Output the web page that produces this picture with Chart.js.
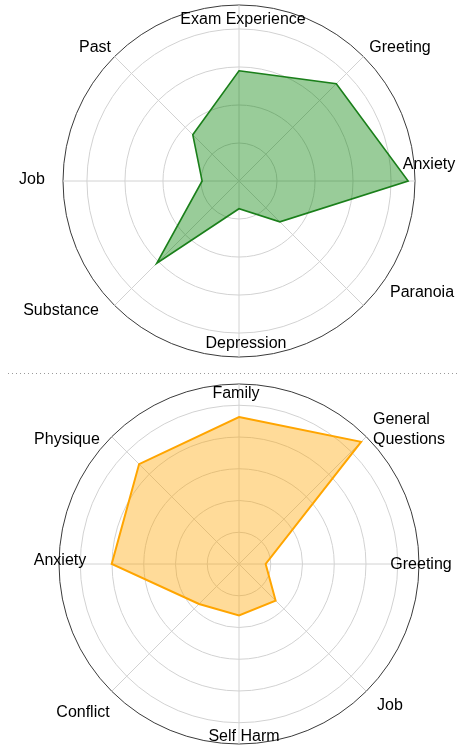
<!DOCTYPE html>
<html>
<head>
<meta charset="utf-8">
<script src="https://cdn.jsdelivr.net/npm/chart.js@4"></script>
<style>
    body { margin: 0; background: #fff; }
    #wrap { position: relative; width: 460px; height: 746px; overflow: hidden; }
    .box { position: absolute; left: 0; width: 460px; }
    #sep {
        position: absolute; left: 8px; top: 373px; width: 452px; height: 1px;
        background-image: repeating-linear-gradient(to right, #9a9a9a 0 1px, transparent 1px 4px);
    }
</style>
</head>
<body>
<div id="wrap">
    <div class="box" style="top:0;height:372px"><canvas id="topChart" width="460" height="372"></canvas></div>
    <div id="sep"></div>
    <div class="box" style="top:373px;height:373px"><canvas id="bottomChart" width="460" height="373"></canvas></div>
</div>
<script>
// top chart data (units = one grid ring)
const topCategories = ["Exam Experience", "Greeting", "Anxiety", "Paranoia", "Depression", "Substance", "Job", "Past"];
const topValues = [2.9, 3.62, 4.45, 1.52, 0.73, 3.06, 0.97, 1.72];
const topGridTicks = [0, 1, 2, 3, 4, 4.63];

// bottom chart data
const bottomCategories = ["Family", ["General", "Questions"], "Greeting", "Job", "Self Harm", "Conflict", "Anxiety", "Physique"];
const bottomValues = [4.63, 5.44, 0.84, 1.63, 1.62, 1.78, 4.01, 4.45];
const bottomGridTicks = [0, 1, 2, 3, 4, 5, 5.67];

// where each label sits (middle of the caps), relative to the chart centre
const topLabelOffsets = [[4, -163], [161, -135], [190, -18], [183, 110], [7, 161], [-178, 128], [-207, -3], [-144, -135]];
const bottomLabelOffsets = [[-3, -172], [170, -136], [182, -1], [151, 140], [5, 171], [-156, 147], [-179, -5], [-172, -126]];

const FONT = '16px "Liberation Sans", Arial, sans-serif';

// draw the spoke labels ourselves, centred like the original
const spokeLabels = {
    id: 'spokeLabels',
    afterDraw(chart, args, opts) {
        const s = chart.scales.r;
        const ctx = chart.ctx;
        ctx.save();
        ctx.font = FONT;
        ctx.fillStyle = '#000';
        ctx.textBaseline = 'alphabetic';
        chart.data.labels.forEach((lab, i) => {
            const off = opts.offsets[i];
            const x = s.xCenter + off[0];
            const y = s.yCenter + off[1] + 6; // baseline sits half a cap height below
            if (Array.isArray(lab)) {
                // multi-line: block centred, lines left aligned
                const w = Math.max(...lab.map(t => ctx.measureText(t).width));
                ctx.textAlign = 'left';
                lab.forEach((t, j) => {
                    ctx.fillText(t, x - w / 2, y + (j - (lab.length - 1) / 2) * 20);
                });
            } else {
                ctx.textAlign = 'center';
                ctx.fillText(lab, x, y);
            }
        });
        ctx.restore();
    }
};

function makeRadar(id, labels, values, gridTicks, lineColor, fillColor, lineWidth, offsets, padding) {
    const max = gridTicks[gridTicks.length - 1];
    return new Chart(document.getElementById(id), {
        type: 'radar',
        data: {
            labels: labels,
            datasets: [{
                data: values,
                borderColor: lineColor,
                backgroundColor: fillColor,
                borderWidth: lineWidth,
                pointRadius: 0,
                pointHoverRadius: 0,
                tension: 0,
                fill: true
            }]
        },
        options: {
            responsive: false,
            animation: false,
            events: [],
            layout: { padding: padding },
            plugins: {
                legend: { display: false },
                tooltip: { enabled: false },
                spokeLabels: { offsets: offsets }
            },
            scales: {
                r: {
                    min: 0,
                    max: max,
                    afterBuildTicks: function(axis) {
                        axis.ticks = gridTicks.map(v => ({ value: v }));
                    },
                    ticks: { display: false },
                    pointLabels: { display: false },
                    angleLines: { color: '#d2d2d2', lineWidth: 1 },
                    grid: {
                        circular: true,
                        color: ctx => ctx.index === gridTicks.length - 1 ? '#3a3a3a' : '#d2d2d2',
                        lineWidth: 1
                    }
                }
            }
        },
        plugins: [spokeLabels]
    });
}

makeRadar('topChart', topCategories, topValues, topGridTicks,
    '#1a7f1a', 'rgba(0, 128, 0, 0.4)', 1.6, topLabelOffsets,
    { left: 18, right: 0, top: 5, bottom: 15 });

makeRadar('bottomChart', bottomCategories, bottomValues, bottomGridTicks,
    '#ffa500', 'rgba(255, 165, 0, 0.4)', 2, bottomLabelOffsets,
    { left: 18, right: 0, top: 11, bottom: 2 });
</script>
</body>
</html>
